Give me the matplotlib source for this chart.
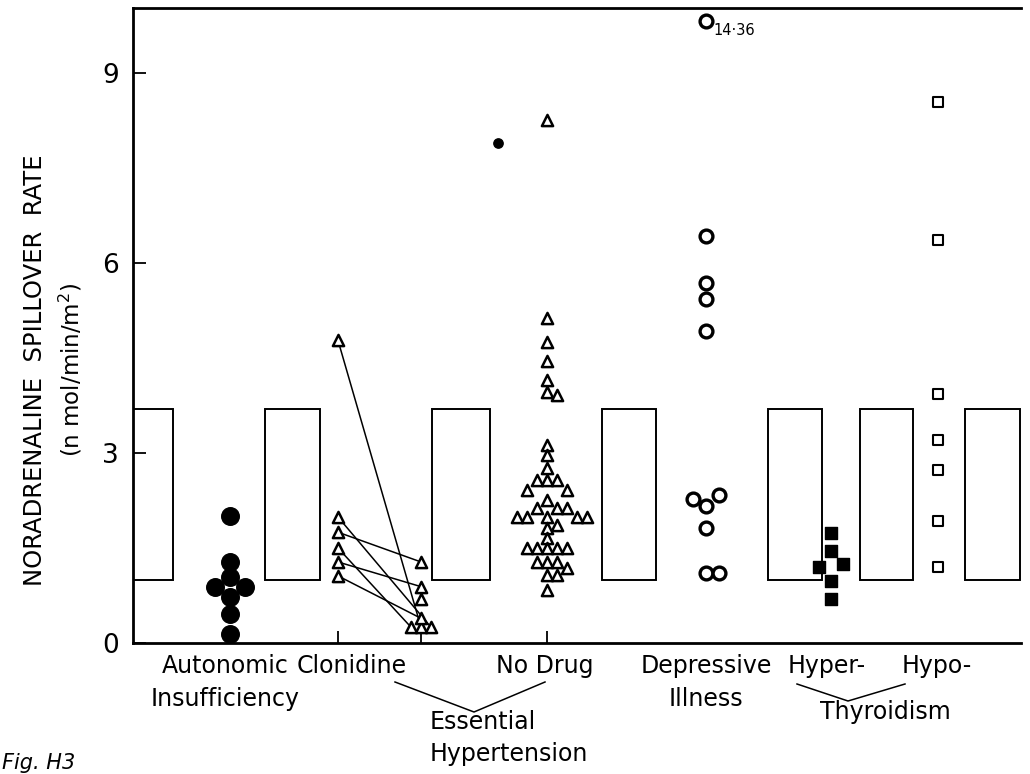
import numpy as np
import matplotlib
matplotlib.use("Agg")
import matplotlib.pyplot as plt
from matplotlib.patches import Rectangle

plt.rcParams['font.family'] = ['DejaVu Sans']

# valores (nmol/min/m2)
autonomic = [2.0, 1.28, 1.04, 0.88, 0.88, 0.73, 0.46, 0.15]
clon_before = [4.78, 1.99, 1.75, 1.50, 1.28, 1.06]
clon_after = [0.25, 0.25, 1.28, 0.25, 0.89, 0.39]
clon_after_extra = [0.69]
no_drug = [8.26, 5.13, 4.76, 4.45, 4.15, 3.97, 3.92,
           3.13, 2.97, 2.76, 2.57, 2.57, 2.57, 2.42, 2.42, 2.26,
           2.13, 2.13, 2.13, 1.99, 1.99, 1.99, 1.99, 1.99, 1.86, 1.82,
           1.66, 1.50, 1.50, 1.50, 1.50, 1.50, 1.28, 1.28, 1.28,
           1.18, 1.07, 1.07, 0.84]
no_drug_dot = [7.9]
depressive = [14.36, 6.43, 5.68, 5.43, 4.93, 2.16, 2.34, 2.28, 1.82, 1.10, 1.10]
hyper = [1.73, 1.46, 1.25, 1.20, 0.98, 0.69]
hypo = [8.54, 6.36, 3.93, 3.21, 2.73, 1.93, 1.20]
normal_range = (1.0, 3.7)

# posiciones (x en pixeles desde el eje)
pos = {'auto': 97, 'clonL': 205, 'clonR': 288, 'nodrug': 414,
       'dep': 573, 'hyper': 698, 'hypo': 805}
gaps = [(0, 40), (132, 187), (299, 357), (469, 523), (635, 689), (727, 780), (832, 887)]

YMAX = 10.03
PX = 635 / YMAX  # pixeles por unidad


def swarm(vals, d, gap=None, step=None):
    # offsets tipo beeswarm para que los marcadores no se encimen
    gap = d if gap is None else gap
    step = d if step is None else step
    placed = []
    offs = []
    for v in vals:
        y = v * PX
        k = 0
        while True:
            cands = [0] if k == 0 else [k * step, -k * step]
            ok = None
            for c in cands:
                if all((c - px) ** 2 + (y - py) ** 2 >= (gap * 0.98) ** 2 for px, py in placed):
                    ok = c
                    break
            if ok is not None:
                break
            k += 1
        placed.append((ok, y))
        offs.append(ok)
    return np.array(offs)


fig = plt.figure(figsize=(10.30, 7.74), dpi=100)
ax = fig.add_axes([133 / 1030, 131 / 774, 888 / 1030, 635 / 774])
ax.set_xlim(0, 888)
ax.set_ylim(0, YMAX)

# cajas del rango normal
for x0, x1 in gaps:
    ax.add_patch(Rectangle((x0, normal_range[0]), x1 - x0, normal_range[1] - normal_range[0],
                           fill=False, edgecolor='black', lw=1.4, zorder=2))

# insuficiencia autonomica
off = swarm(autonomic, 15)
ax.scatter(pos['auto'] + off, autonomic, s=160, c='black', marker='o', zorder=3)

# clonidina, antes y despues
allR = clon_after + clon_after_extra
offL = swarm(clon_before, 10)
offR = swarm(allR, 10, gap=8)
xL = pos['clonL'] + offL
xR = pos['clonR'] + offR
for i in range(len(clon_before)):
    ax.plot([xL[i], xR[i]], [clon_before[i], allR[i]], color='black', lw=1.1, zorder=2)
ax.scatter(xL, clon_before, s=65, marker='^', facecolors='white', edgecolors='black',
           linewidths=1.8, zorder=3)
ax.scatter(xR, allR, s=65, marker='^', facecolors='white', edgecolors='black',
           linewidths=1.8, zorder=3)

# sin droga
off = swarm(no_drug, 10)
ax.scatter(pos['nodrug'] + off, no_drug, s=65, marker='^', facecolors='white',
           edgecolors='black', linewidths=1.8, zorder=3)
ax.scatter([365] * len(no_drug_dot), no_drug_dot, s=45, c='black', marker='o', zorder=3)

# depresion
dep_plot = np.minimum(depressive, 9.82)
off = swarm(dep_plot, 13)
ax.scatter(pos['dep'] + off, dep_plot, s=85, marker='o', facecolors='white',
           edgecolors='black', linewidths=2.4, zorder=3)
ax.text(pos['dep'] + 7, 9.68, '14·36', fontsize=10.5, ha='left', va='center')

# tiroides
off = swarm(hyper, 12, gap=14)
ax.scatter(pos['hyper'] + off, hyper, s=80, marker='s', c='black', zorder=3)
off = swarm(hypo, 11)
ax.scatter(pos['hypo'] + off, hypo, s=60, marker='s', facecolors='white',
           edgecolors='black', linewidths=1.5, zorder=3)

# ejes
for sp in ['left', 'bottom', 'top']:
    ax.spines[sp].set_linewidth(2.0)
ax.spines['right'].set_visible(False)
ax.set_yticks([0, 3, 6, 9])
ax.set_yticklabels(['0', '3', '6', '9'], fontsize=19)
ax.tick_params(axis='y', direction='in', length=9, width=1.3, pad=10)
ax.set_xticks([pos['clonL'], pos['clonR'], pos['nodrug']])
ax.set_xticklabels([])
ax.tick_params(axis='x', direction='in', length=9, width=1.3)

# etiquetas del eje y
fig.text(35 / 1030, 1 - 370 / 774, 'NORADRENALINE  SPILLOVER  RATE', rotation=90,
         fontsize=17.5, ha='center', va='center')
fig.text(71 / 1030, 1 - 370 / 774, '(n mol/min/m$^2$)', rotation=90,
         fontsize=16.5, ha='center', va='center')

# etiquetas de categorias
def lab(x, y, s, ha='center'):
    ax.text(x - 133, (643 - y) / PX, s, fontsize=17, ha=ha, va='center',
            clip_on=False)

lab(225, 666, 'Autonomic')
lab(225, 699, 'Insufficiency')
lab(352, 666, 'Clonidine')
lab(545, 666, 'No Drug')
lab(706, 666, 'Depressive')
lab(706, 699, 'Illness')
lab(827, 666, 'Hyper-')
lab(937, 666, 'Hypo-')
lab(885, 712, 'Thyroidism')
lab(430, 722, 'Essential', ha='left')
lab(430, 754, 'Hypertension', ha='left')

# llaves
def bracket(pts):
    xs = [p[0] - 133 for p in pts]
    ys = [(643 - p[1]) / PX for p in pts]
    ax.plot(xs, ys, color='black', lw=1.1, clip_on=False)

bracket([(395, 682), (474, 712), (545, 682)])
bracket([(797, 684), (848, 701), (905, 684)])

fig.text(2 / 1030, 1 - 763 / 774, 'Fig. H3', fontsize=15, style='italic',
         ha='left', va='center')

fig.savefig('out.png', dpi=100)
